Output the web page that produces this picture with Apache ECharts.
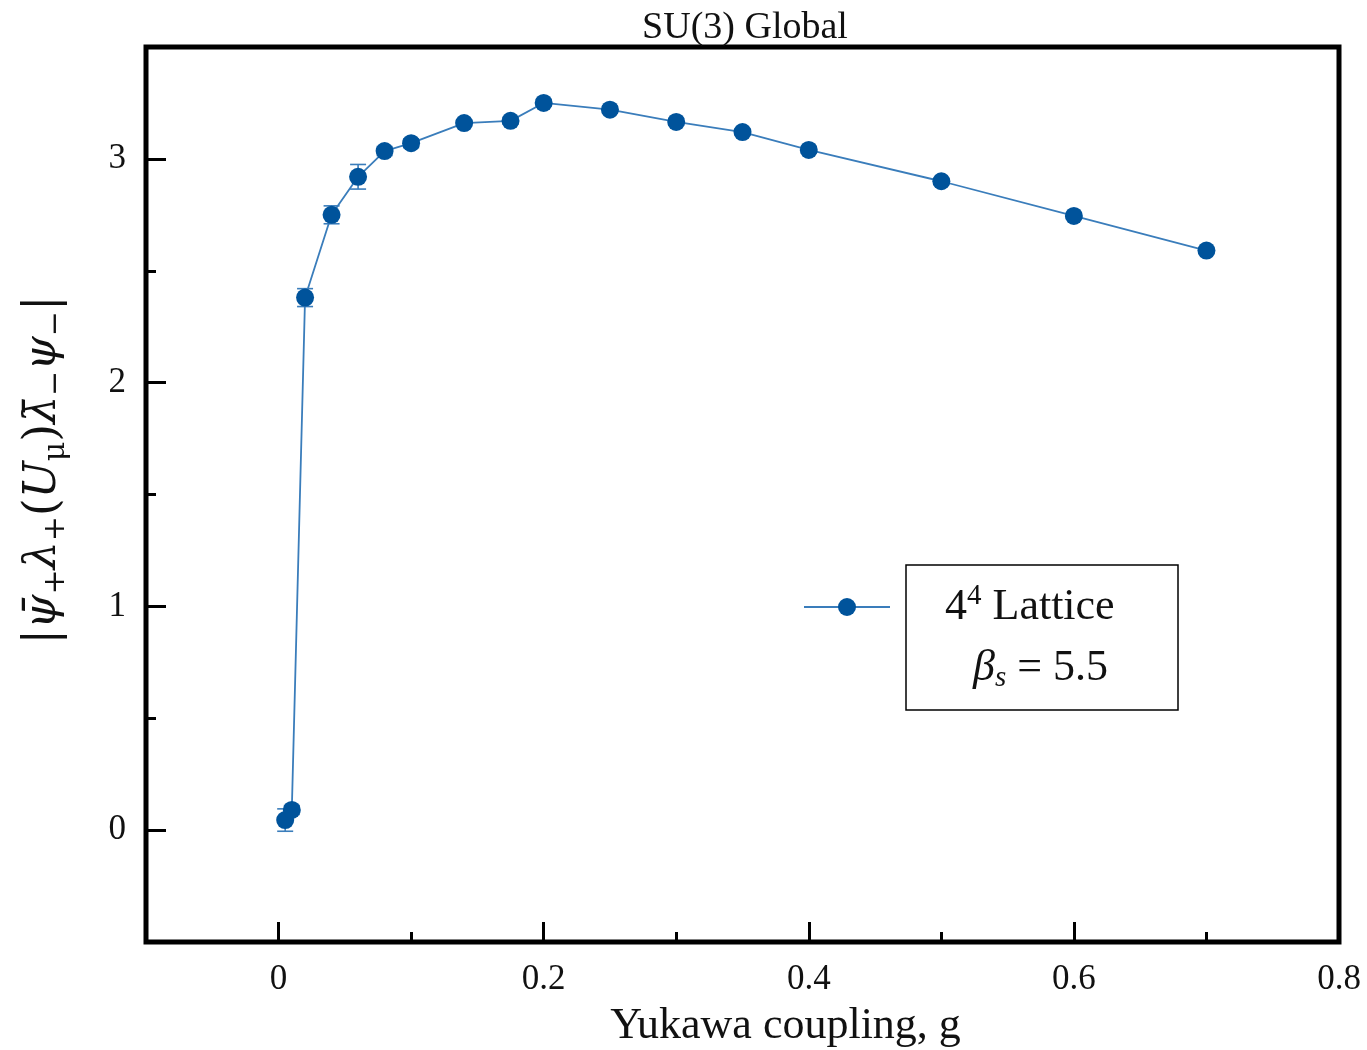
<!DOCTYPE html>
<html>
<head>
<meta charset="utf-8">
<script src="https://cdn.jsdelivr.net/npm/echarts@6/dist/echarts.min.js"></script>
<style>html,body{margin:0;padding:0;background:#fff}#c{width:1367px;height:1050px}</style>
</head>
<body>
<div id="c"></div>
<script>
// Data
const gValues = [0.005, 0.01, 0.02, 0.04, 0.06, 0.08, 0.1, 0.14, 0.175, 0.2, 0.25, 0.3, 0.35, 0.4, 0.5, 0.6, 0.7];
const orderParam = [0.045, 0.09, 2.38, 2.75, 2.92, 3.035, 3.07, 3.16, 3.17, 3.25, 3.22, 3.165, 3.12, 3.04, 2.90, 2.745, 2.59];
const errValues = [0.05, 0.02, 0.04, 0.04, 0.055, 0.02, 0.02, 0.015, 0.015, 0.015, 0.015, 0.015, 0.015, 0.015, 0.01, 0.01, 0.01];
const xLabelTicks = [0, 0.2, 0.4, 0.6, 0.8];
const xMajorTicks = [0, 0.2, 0.4, 0.6];
const xMinorTicks = [0.1, 0.3, 0.5, 0.7];
const yLabelTicks = [0, 1, 2, 3];
const yMajorTicks = [0, 1, 2, 3];
const yMinorTicks = [0.5, 1.5, 2.5];

const chart = echarts.init(document.getElementById('c'));
const serif = '"Liberation Serif", "DejaVu Serif", serif';
const mathSerif = '"DejaVu Serif", "Liberation Serif", serif';
const markColor = '#00539b';
const lineColor = '#3a7dbb';

const points = gValues.map((g, i) => [g, orderParam[i]]);
const errData = gValues.map((g, i) => [g, orderParam[i], errValues[i]]);

function fmt(v) { return v === 0 ? '0' : String(+v.toFixed(1)); }

const commonX = {
  type: 'value', min: -0.1, max: 0.8, gridIndex: 0,
  splitLine: { show: false }, axisLine: { show: false, onZero: false }
};
const commonY = {
  type: 'value', min: -0.5, max: 3.5, interval: 0.5, gridIndex: 0,
  splitLine: { show: false }, axisLine: { show: false, onZero: false }
};

chart.setOption({
  animation: false,
  backgroundColor: '#fff',
  title: {
    text: 'SU(3) Global', left: 740, top: 4, textAlign: 'center',
    textStyle: { fontFamily: serif, fontSize: 38, fontWeight: 'normal', color: '#111' }
  },
  grid: {
    left: 146, right: 28, top: 47, bottom: 108,
    outerBoundsMode: 'none', containLabel: false,
    show: true, borderColor: '#000', borderWidth: 5, backgroundColor: 'transparent'
  },
  xAxis: [
    Object.assign({}, commonX, {
      position: 'bottom',
      axisTick: { show: true, inside: true, length: 20, lineStyle: { color: '#000', width: 3 }, customValues: xMajorTicks },
      axisLabel: { show: true, margin: 20, fontFamily: serif, fontSize: 35, color: '#111', customValues: xLabelTicks, formatter: fmt },
      name: 'Yukawa coupling, g', nameLocation: 'middle', nameGap: 62,
      nameTextStyle: { fontFamily: serif, fontSize: 44, color: '#111', padding: [0, 0, 0, 86] }
    }),
    Object.assign({}, commonX, {
      position: 'bottom',
      axisTick: { show: true, inside: true, length: 10, lineStyle: { color: '#000', width: 3 }, customValues: xMinorTicks },
      axisLabel: { show: false }
    })
  ],
  yAxis: [
    Object.assign({}, commonY, {
      position: 'left',
      axisTick: { show: true, inside: true, length: 20, lineStyle: { color: '#000', width: 3 }, customValues: yMajorTicks },
      axisLabel: { show: true, margin: 20, fontFamily: serif, fontSize: 35, color: '#111', customValues: yLabelTicks, formatter: fmt }
    }),
    Object.assign({}, commonY, {
      position: 'left',
      axisTick: { show: true, inside: true, length: 10, lineStyle: { color: '#000', width: 3 }, customValues: yMinorTicks },
      axisLabel: { show: false }
    })
  ],
  graphic: [
    {
      type: 'text', x: 44, y: 470, rotation: Math.PI / 2,
      style: {
        text: '{n||}{i|ψ\u0304}{s|+}{i|λ}{s|+}{n|(}{i|U}{s|μ}{n|)}{i|λ\u0304}{s|−}{i|ψ}{s|−}{n||}',
        align: 'center', verticalAlign: 'middle',
        font: '44px ' + mathSerif, fill: '#111',
        rich: {
          n: { fontFamily: mathSerif, fontSize: 46, lineHeight: 54, verticalAlign: 'middle' },
          i: { fontFamily: mathSerif, fontSize: 44, fontStyle: 'italic', lineHeight: 54, verticalAlign: 'middle' },
          s: { fontFamily: mathSerif, fontSize: 30, lineHeight: 30, verticalAlign: 'bottom' }
        }
      }
    },
    // legend
    { type: 'line', shape: { x1: 804, y1: 607, x2: 890, y2: 607 }, style: { stroke: lineColor, lineWidth: 2 } },
    { type: 'circle', shape: { cx: 847, cy: 607, r: 9 }, style: { fill: markColor } },
    { type: 'rect', shape: { x: 906, y: 565, width: 272, height: 145 }, style: { fill: '#fff', stroke: '#000', lineWidth: 1.5 } },
    {
      type: 'text', x: 945, y: 607,
      style: {
        text: '4{sup|4} Lattice', verticalAlign: 'middle', font: '44px ' + serif, fill: '#111',
        rich: { sup: { fontFamily: serif, fontSize: 29, lineHeight: 50, verticalAlign: 'top' } }
      }
    },
    {
      type: 'text', x: 973, y: 668,
      style: {
        text: '{b|β}{s|s} = 5.5', verticalAlign: 'middle', font: '44px ' + serif, fill: '#111',
        rich: {
          b: { fontFamily: serif, fontSize: 44, fontStyle: 'italic', lineHeight: 50, verticalAlign: 'middle' },
          s: { fontFamily: serif, fontSize: 29, fontStyle: 'italic', lineHeight: 29, verticalAlign: 'bottom' }
        }
      }
    }
  ],
  series: [
    {
      type: 'line', xAxisIndex: 0, yAxisIndex: 0, data: points,
      symbol: 'circle', symbolSize: 18,
      lineStyle: { color: lineColor, width: 1.8 },
      itemStyle: { color: markColor },
      z: 3
    },
    {
      type: 'custom', xAxisIndex: 0, yAxisIndex: 0, data: errData, z: 2,
      renderItem: function (params, api) {
        const x = api.value(0), y = api.value(1), e = api.value(2);
        const top = api.coord([x, y + e]);
        const bot = api.coord([x, y - e]);
        const w = 8;
        const st = { stroke: lineColor, lineWidth: 1.6 };
        return {
          type: 'group',
          children: [
            { type: 'line', shape: { x1: top[0], y1: top[1], x2: bot[0], y2: bot[1] }, style: st },
            { type: 'line', shape: { x1: top[0] - w, y1: top[1], x2: top[0] + w, y2: top[1] }, style: st },
            { type: 'line', shape: { x1: bot[0] - w, y1: bot[1], x2: bot[0] + w, y2: bot[1] }, style: st }
          ]
        };
      }
    }
  ]
});
</script>
</body>
</html>
